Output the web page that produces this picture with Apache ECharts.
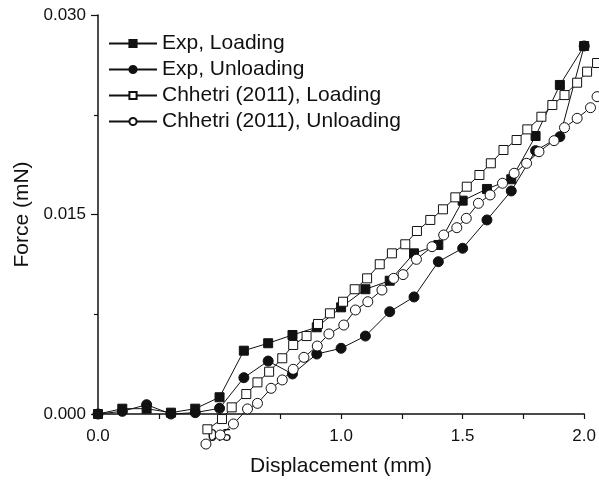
<!DOCTYPE html>
<html lang="en">
<head>
    <meta charset="UTF-8">
    <title>Force vs displacement</title>
    <script src="https://cdn.jsdelivr.net/npm/echarts@6/dist/echarts.min.js"></script>
</head>
<body style="margin:0;background:#fff;">
<div id="main" style="width: 599px;height:483px;"></div>

<script type="text/javascript">
    // Exp, Loading (filled squares)
    var expLoadX = [0.0, 0.1, 0.2, 0.3, 0.4, 0.5, 0.6, 0.7, 0.8, 0.9, 1.0, 1.1, 1.2, 1.3, 1.4, 1.5, 1.6, 1.7, 1.8, 1.9, 2.0];
    var expLoadY = [0.0000, 0.0004, 0.0004, 0.0001, 0.0004, 0.00126, 0.00476, 0.00532, 0.00594, 0.00652, 0.00802,
        0.00938, 0.01002, 0.01208, 0.01271, 0.01604, 0.01692, 0.01765, 0.0209, 0.02474, 0.02767];

    // Exp, Unloading (filled circles)
    var expUnloadX = [0.0, 0.1, 0.2, 0.3, 0.4, 0.5, 0.6, 0.7, 0.8, 0.9, 1.0, 1.1, 1.2, 1.3, 1.4, 1.5, 1.6, 1.7, 1.8, 1.9, 2.0];
    var expUnloadY = [0.0000, 0.0002, 0.0007, 0.0000, 0.0001, 0.00043, 0.00273, 0.00398, 0.00301, 0.00451, 0.00494,
        0.00586, 0.00769, 0.0088, 0.01145, 0.01246, 0.01459, 0.01677, 0.0198, 0.02085, 0.02767];

    // Chhetri (2011), Loading (open squares)
    var chLoadX = [0.450, 0.510, 0.550, 0.610, 0.656, 0.704, 0.758, 0.803, 0.858, 0.905, 0.954, 1.008, 1.056, 1.107,
        1.159, 1.209, 1.264, 1.312, 1.367, 1.419, 1.470, 1.517, 1.569, 1.616, 1.668, 1.722, 1.766, 1.824, 1.869,
        1.919, 1.971, 2.012, 2.053];
    var chLoadY = [-0.00115, -0.00038, 0.0005, 0.0015, 0.00238, 0.00318, 0.00419, 0.00519, 0.00586, 0.00677, 0.00757,
        0.00844, 0.00938, 0.0102, 0.01126, 0.01208, 0.01276, 0.01376, 0.01459, 0.01539, 0.01629, 0.01709, 0.01797,
        0.01885, 0.01985, 0.0206, 0.0214, 0.02235, 0.02323, 0.02398, 0.02491, 0.02574, 0.02639];

    // Chhetri (2011), Unloading (open circles)
    var chUnloadX = [0.444, 0.503, 0.557, 0.615, 0.656, 0.712, 0.758, 0.803, 0.847, 0.902, 0.950, 1.011, 1.059, 1.110,
        1.168, 1.216, 1.255, 1.310, 1.374, 1.422, 1.476, 1.515, 1.565, 1.613, 1.664, 1.712, 1.763, 1.814, 1.876,
        1.919, 1.971, 2.026, 2.053];
    var chUnloadY = [-0.00226, -0.00158, -0.00075, 0.00038, 0.0008, 0.00193, 0.00256, 0.00336, 0.00426, 0.00511,
        0.00602, 0.00669, 0.00782, 0.00844, 0.00932, 0.0102, 0.01048, 0.01163, 0.01258, 0.01346, 0.01401, 0.01471,
        0.01584, 0.01647, 0.01735, 0.0181, 0.01885, 0.01972, 0.02055, 0.02153, 0.02223, 0.02303, 0.02386];

    var font = 'Liberation Sans, Arial, sans-serif';
    var ink = '#111';

    function zip(xs, ys) {
        var res = [];
        for (let i = 0; i < xs.length; i++) {
            res.push([xs[i], ys[i]]);
        }
        return res;
    }

    function makeSeries(name, xs, ys, symbol, filled, size) {
        return {
            name: name,
            type: 'line',
            data: zip(xs, ys),
            symbol: symbol,
            symbolSize: size,
            showAllSymbol: true,
            clip: false,
            lineStyle: {color: ink, width: 1},
            itemStyle: {
                color: filled ? ink : '#fff',
                borderColor: ink,
                borderWidth: 1
            },
            emphasis: {disabled: true}
        };
    }

    var myChart = echarts.init(document.getElementById('main'));
    var option = {
        animation: false,
        backgroundColor: '#fff',
        grid: {left: 98, right: 13, top: 15, bottom: 69, containLabel: false},
        legend: {
            orient: 'vertical',
            left: 103,
            top: 28,
            itemWidth: 48,
            itemHeight: 9,
            itemGap: 5,
            textStyle: {fontFamily: font, fontSize: 21, color: ink},
            data: ['Exp, Loading', 'Exp, Unloading', 'Chhetri (2011), Loading', 'Chhetri (2011), Unloading']
        },
        xAxis: {
            type: 'value',
            min: 0,
            max: 2,
            interval: 0.5,
            name: 'Displacement (mm)',
            nameLocation: 'middle',
            nameGap: 42,
            nameTextStyle: {fontFamily: font, fontSize: 21, color: ink},
            axisLine: {lineStyle: {color: ink, width: 1.5}},
            axisTick: {length: 5, lineStyle: {color: ink, width: 1.2}},
            minorTick: {show: true, splitNumber: 2, length: 5, lineStyle: {color: ink, width: 1.2}},
            splitLine: {show: false},
            axisLabel: {
                fontFamily: font, fontSize: 17, color: ink, margin: 14,
                formatter: function (v) {
                    return v.toFixed(1);
                }
            }
        },
        yAxis: {
            type: 'value',
            min: 0,
            max: 0.03,
            interval: 0.015,
            name: 'Force (mN)',
            nameLocation: 'middle',
            nameGap: 65,
            nameTextStyle: {fontFamily: font, fontSize: 21, color: ink},
            axisLine: {show: true, lineStyle: {color: ink, width: 1.5}},
            axisTick: {show: true, length: 7, lineStyle: {color: ink, width: 1.2}},
            minorTick: {show: true, splitNumber: 2, length: 4, lineStyle: {color: ink, width: 1.2}},
            splitLine: {show: false},
            axisLabel: {
                fontFamily: font, fontSize: 17, color: ink, margin: 12,
                formatter: function (v) {
                    return v.toFixed(3);
                }
            }
        },
        series: [
            makeSeries('Exp, Loading', expLoadX, expLoadY, 'rect', true, 9),
            makeSeries('Exp, Unloading', expUnloadX, expUnloadY, 'circle', true, 10),
            makeSeries('Chhetri (2011), Loading', chLoadX, chLoadY, 'rect', false, 9),
            makeSeries('Chhetri (2011), Unloading', chUnloadX, chUnloadY, 'circle', false, 10)
        ]
    };

    if (option && typeof option === "object") {
        myChart.setOption(option, true);
    }
</script>
</body>
</html>
